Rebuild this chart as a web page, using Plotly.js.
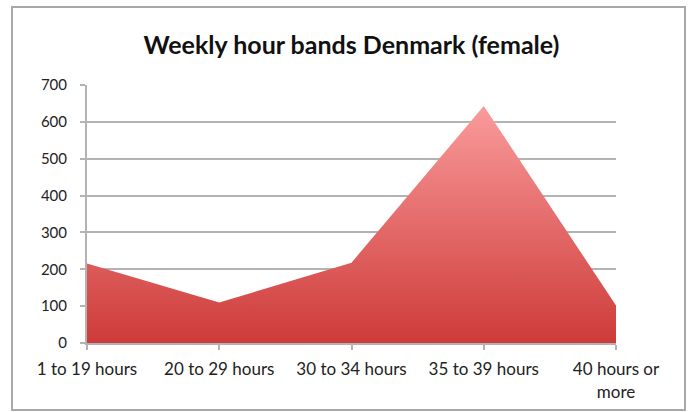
<!DOCTYPE html>
<html>
<head>
<meta charset="utf-8">
<script src="https://cdn.plot.ly/plotly-3.0.1.min.js"></script>
<style>html,body{margin:0;padding:0;background:#fff;}#chart{width:693px;height:412px;}</style>
</head>
<body>
<div id="chart"></div>
<script>
const categories = ["1 to 19 hours", "20 to 29 hours", "30 to 34 hours", "35 to 39 hours", "40 hours or<br>more"];
const values = [216, 110, 218, 643, 102];
const yTicks = [0, 100, 200, 300, 400, 500, 600, 700];

const W = 693, H = 412;
const plotL = 87, plotR = 616, plotT = 85, plotB = 343;
const pw = plotR - plotL, ph = plotB - plotT;
const px = v => (v - plotL) / pw;
const py = v => (plotB - v) / ph;

const trace = {
  x: categories.map((c, i) => i),
  y: values,
  type: 'scatter',
  mode: 'lines',
  line: {width: 0, color: 'rgba(0,0,0,0)'},
  fill: 'tozeroy',
  fillgradient: {
    type: 'vertical',
    start: 0,
    stop: Math.max(...values),
    colorscale: [[0, '#cd3b39'], [1, '#fa9b9b']]
  },
  hoverinfo: 'skip',
  showlegend: false
};

const layout = {
  width: W, height: H,
  margin: {l: plotL, r: W - plotR, t: plotT, b: H - plotB},
  paper_bgcolor: '#ffffff',
  plot_bgcolor: '#ffffff',
  title: {
    text: 'Weekly hour bands Denmark (female)',
    font: {family: 'Lato, Open Sans, sans-serif', size: 25, color: '#111', weight: 'bold'},
    x: 0.5, xanchor: 'center', y: 1 - 45 / H, yanchor: 'middle', xref: 'paper'
  },
  xaxis: {
    range: [0, categories.length - 1],
    tickmode: 'array',
    tickvals: categories.map((c, i) => i),
    ticktext: categories,
    showgrid: false,
    zeroline: false,
    showline: true,
    linecolor: '#b3b3b3',
    linewidth: 2,
    ticks: 'outside',
    ticklen: 5,
    tickwidth: 2,
    tickcolor: '#b3b3b3',
    ticklabelstandoff: 5,
    tickfont: {family: 'Lato, Open Sans, sans-serif', size: 17, color: '#222'},
    fixedrange: true
  },
  yaxis: {
    range: [0, 700],
    tickmode: 'array',
    tickvals: yTicks,
    ticktext: yTicks.map(String),
    showgrid: true,
    gridcolor: '#b3b3b3',
    gridwidth: 2,
    zeroline: false,
    showline: true,
    linecolor: '#b3b3b3',
    linewidth: 2,
    ticks: 'outside',
    ticklen: 5,
    tickwidth: 2,
    tickcolor: '#b3b3b3',
    ticklabelstandoff: 10,
    tickfont: {family: 'Lato, Open Sans, sans-serif', size: 15, color: '#222'},
    fixedrange: true
  },
  shapes: [{
    type: 'rect', xref: 'paper', yref: 'paper',
    x0: px(12), x1: px(685), y0: py(410), y1: py(7),
    line: {color: '#a8a8a8', width: 2},
    fillcolor: 'rgba(0,0,0,0)',
    layer: 'below'
  }]
};

Plotly.newPlot('chart', [trace], layout, {displayModeBar: false, staticPlot: true});
</script>
</body>
</html>
